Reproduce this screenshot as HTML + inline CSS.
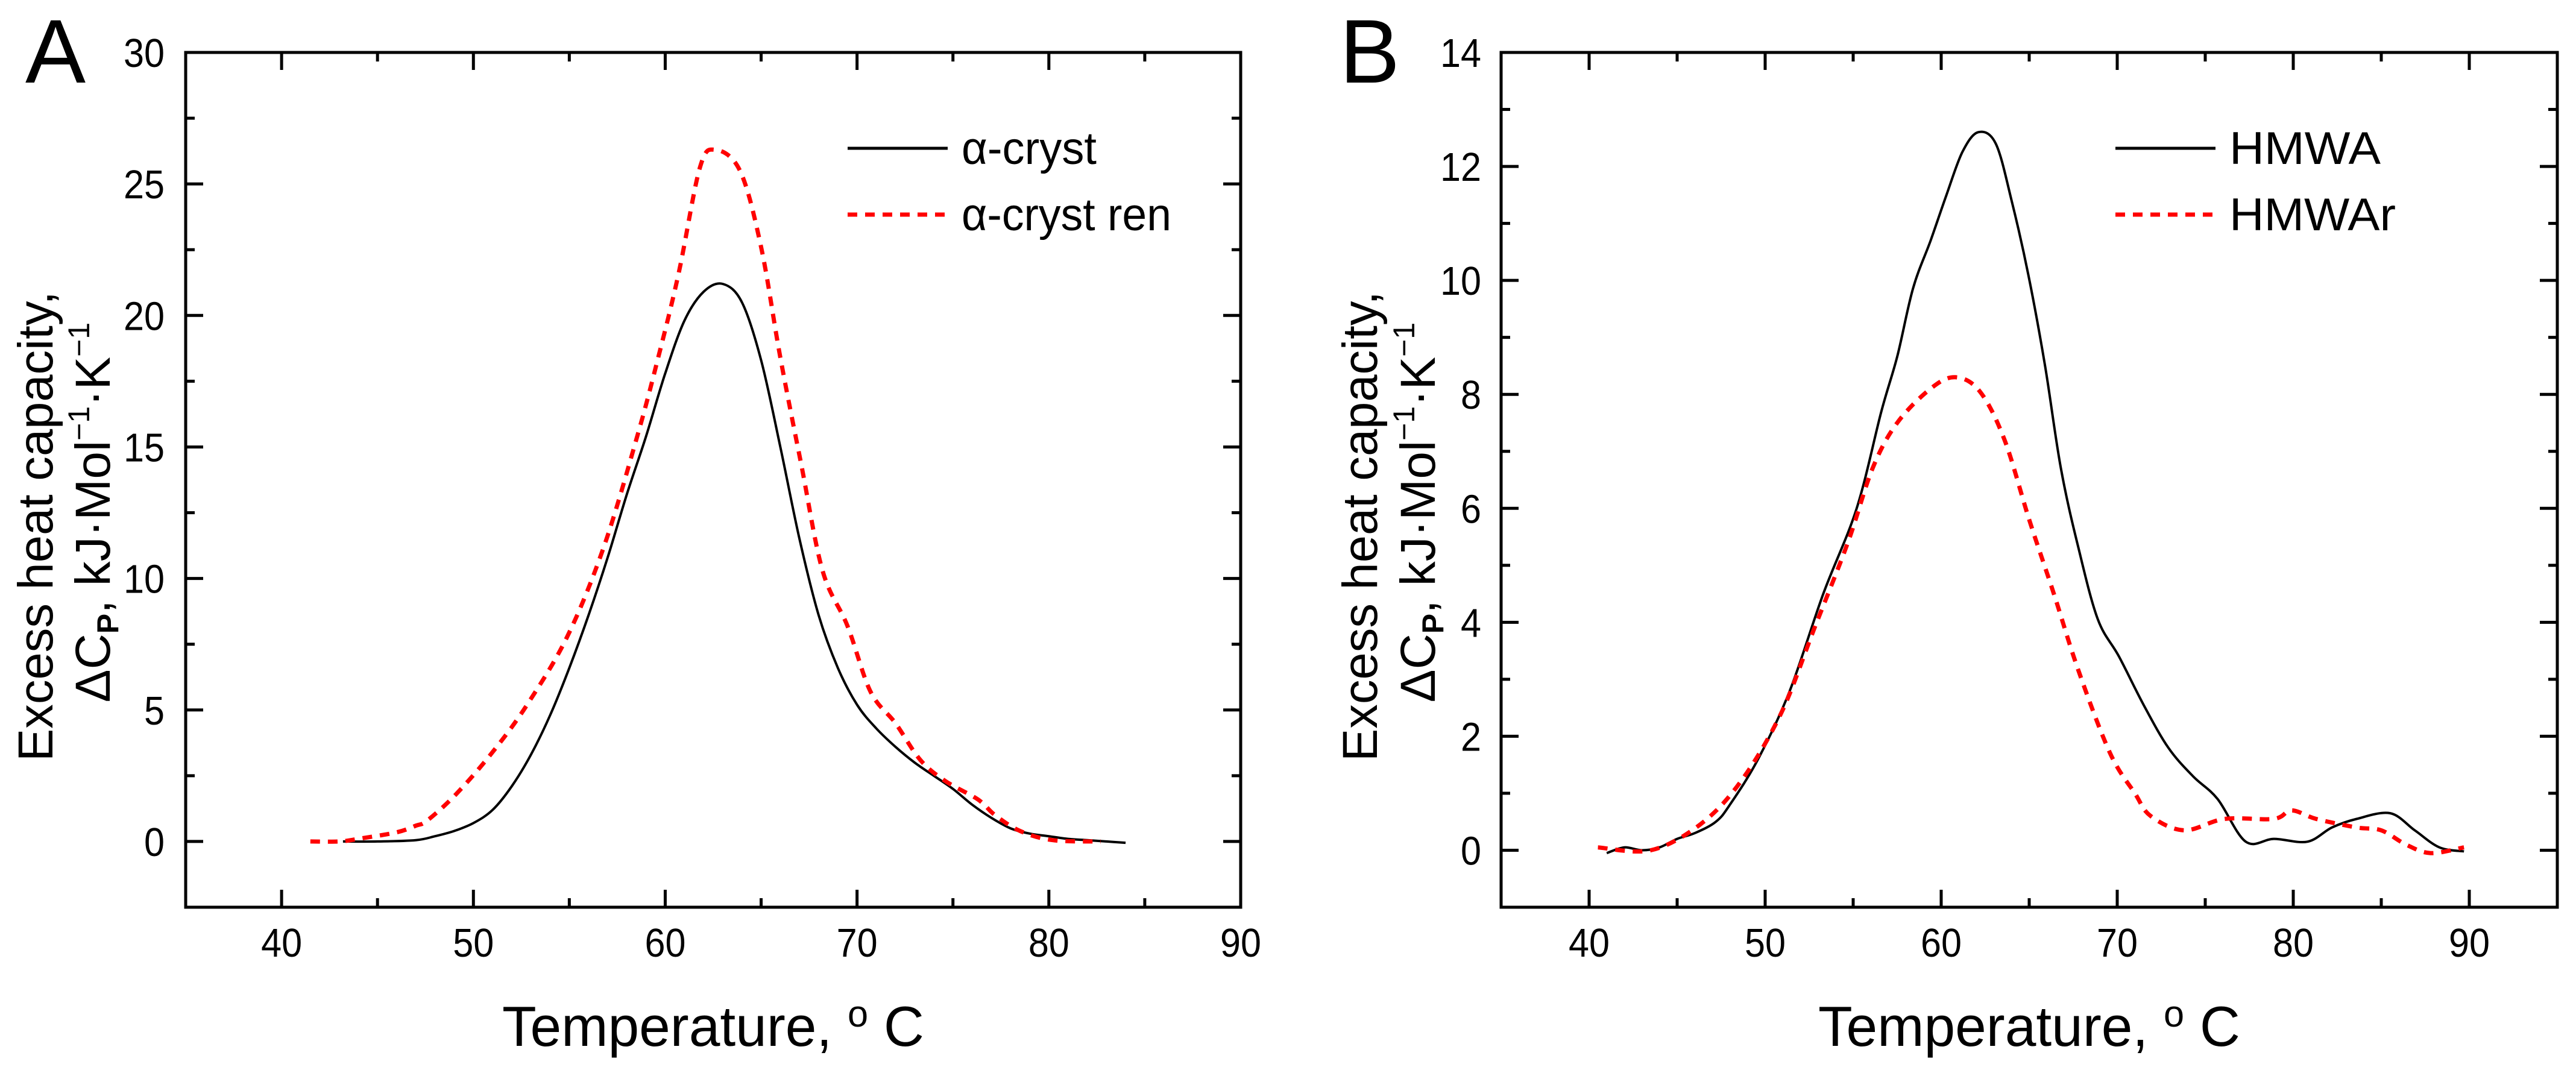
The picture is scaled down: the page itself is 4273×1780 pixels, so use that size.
<!DOCTYPE html>
<html><head><meta charset="utf-8"><style>
html,body{margin:0;padding:0;background:#fff}
svg{display:block}
text{font-family:"Liberation Sans",Arial,sans-serif;fill:#000}
</style></head><body>
<svg id="fig" width="4273" height="1780" viewBox="0 0 4273 1780" xmlns="http://www.w3.org/2000/svg"></svg>
<script>
// Panel A data
const aBlackT = [43.2,45,47,48,49,50,51,52,53,54,55,56,57,58,59,60,61,62,63,64,65,66,67,68,69,70,71,72,73,74,75,76,77,78,79,80,81,82,83,84];
const aBlackY = [0,0,0.05,0.2,0.4,0.7,1.2,2.1,3.3,4.8,6.6,8.6,10.8,13.2,15.4,17.8,19.8,20.9,21.2,20.5,18.3,15.0,11.5,8.6,6.6,5.2,4.3,3.6,3.0,2.5,2.0,1.4,0.9,0.5,0.3,0.2,0.1,0.05,0,-0.05];
const aRedT = [41.5,43,44,46,47,47.6,49.1,51,52.8,54.9,56.8,58.5,59.6,60.7,61.8,62.6,63.9,65,66,67.1,68.2,69.5,70.7,72,73.3,74.6,76.3,77.2,78.5,80.2,82.7];
const aRedY = [0,0,0.1,0.35,0.6,0.8,1.8,3.4,5.2,7.8,11.2,15.3,18.3,21.6,25.6,26.3,25.5,22.6,18.4,14.3,10.3,8.2,5.7,4.5,3.1,2.3,1.6,1.0,0.4,0.05,0];
const aXTicks = [40,50,60,70,80,90];
const aYTicks = [0,5,10,15,20,25,30];
// Panel B data
const bBlackT = [41,42,43,44,45,46,47.2,48,49.6,51.4,53.3,55.2,56.6,57.5,58.4,59.4,60.3,61.2,62.1,63.1,64,64.95,65.9,66.8,67.8,68.9,70.1,71.5,72.9,74.3,75.7,77.3,78.9,80.8,82.2,83.6,85.5,86.9,88.3,89.7];
const bBlackY = [-0.05,0.05,0,0.05,0.2,0.3,0.5,0.8,1.6,2.8,4.5,6.0,7.7,8.66,9.86,10.7,11.5,12.25,12.6,12.4,11.4,10.1,8.5,6.7,5.3,4.05,3.4,2.55,1.8,1.3,0.9,0.15,0.2,0.15,0.4,0.55,0.65,0.35,0.05,-0.02];
const bRedT = [40.5,43.5,46.3,48.6,50.9,52.8,54.7,56.1,57.5,59.4,60.8,62.2,63.6,65,66.4,67.8,69.6,71,71.9,73.8,76.1,78.9,79.9,81.3,83.6,85,86.4,87.8,89.7];
const bRedY = [0.05,0,0.45,1.2,2.4,3.9,5.4,6.7,7.5,8.1,8.3,8.05,7.2,5.8,4.5,3.15,1.7,1.0,0.6,0.35,0.55,0.55,0.7,0.55,0.4,0.35,0.1,-0.05,0.05];
const bXTicks = [40,50,60,70,80,90];
const bYTicks = [0,2,4,6,8,10,12,14];

const NS = "http://www.w3.org/2000/svg";
const svg = document.getElementById('fig');
function mk(tag, attrs, parent){
  const e = document.createElementNS(NS, tag);
  for (const k in attrs) e.setAttribute(k, attrs[k]);
  (parent||svg).appendChild(e);
  return e;
}
function smoothPath(pts){
  let d = 'M' + pts[0][0].toFixed(1) + ',' + pts[0][1].toFixed(1);
  for (let i=0;i<pts.length-1;i++){
    const p0 = pts[Math.max(0,i-1)], p1 = pts[i], p2 = pts[i+1], p3 = pts[Math.min(pts.length-1,i+2)];
    const c1x = p1[0]+(p2[0]-p0[0])/6, c1y = p1[1]+(p2[1]-p0[1])/6;
    const c2x = p2[0]-(p3[0]-p1[0])/6, c2y = p2[1]-(p3[1]-p1[1])/6;
    d += 'C'+c1x.toFixed(1)+','+c1y.toFixed(1)+' '+c2x.toFixed(1)+','+c2y.toFixed(1)+' '+p2[0].toFixed(1)+','+p2[1].toFixed(1);
  }
  return d;
}

function panel(cfg){
  const g = mk('g', {});
  
  
  const L=cfg.left, R=cfg.right, T=87, B=1505;
  const sx = v => L + (v - cfg.xmin) / (cfg.xmax - cfg.xmin) * (R - L);
  const sy = v => B - (v - cfg.ymin) / (cfg.ymax - cfg.ymin) * (B - T);
  const tg = mk('g', {stroke:'#000','stroke-width':5}, g);
  
  
  for (let i=0;i<cfg.xt.length;i++){
    const v = cfg.xt[i], x = sx(v);
    mk('line',{x1:x,y1:B,x2:x,y2:B-29},tg); mk('line',{x1:x,y1:T,x2:x,y2:T+29},tg);
    const xm = sx(v+5);
    if (xm < R-5){ mk('line',{x1:xm,y1:B,x2:xm,y2:B-15},tg); mk('line',{x1:xm,y1:T,x2:xm,y2:T+15},tg); }
    const xm2 = sx(v-5);
    if (i===0 && xm2 > L+5){ mk('line',{x1:xm2,y1:B,x2:xm2,y2:B-15},tg); mk('line',{x1:xm2,y1:T,x2:xm2,y2:T+15},tg); }
    const t = mk('text',{x:x,y:1587,'font-size':67,'text-anchor':'middle',textLength:68,lengthAdjust:'spacingAndGlyphs'},g);
    t.textContent = v;
    
    
  }
  const ystep = cfg.yt[1]-cfg.yt[0];
  for (let i=0;i<cfg.yt.length;i++){
    const v = cfg.yt[i], y = sy(v);
    mk('line',{x1:L,y1:y,x2:L+29,y2:y},tg); mk('line',{x1:R,y1:y,x2:R-29,y2:y},tg);
    const ym = sy(v-ystep/2);
    if (ym < B-5){ mk('line',{x1:L,y1:ym,x2:L+15,y2:ym},tg); mk('line',{x1:R,y1:ym,x2:R-15,y2:ym},tg); }
    const s = String(v);
    const t = mk('text',{x:cfg.ylabX,y:y+24,'font-size':67,'text-anchor':'end',textLength:34*s.length,lengthAdjust:'spacingAndGlyphs'},g);
    t.textContent = s;
    
    
  }
  const fr = mk('rect',{x:L,y:T,width:R-L,height:B-T,fill:'none',stroke:'#000','stroke-width':5},g);
  
  
  const bp = cfg.bT.map((t,i)=>[sx(t), sy(cfg.bY[i])]);
  const rp = cfg.rT.map((t,i)=>[sx(t), sy(cfg.rY[i])]);
  const bl = mk('path',{d:smoothPath(bp),fill:'none',stroke:'#000','stroke-width':4,'stroke-linejoin':'round'},g);
  
  
  const rl = mk('path',{d:smoothPath(rp),fill:'none',stroke:'#ff0000','stroke-width':7,'stroke-dasharray':'16 13'},g);
  
  
  const lg = mk('g',{},g);
  
  
  mk('line',{x1:cfg.legX,y1:246,x2:cfg.legX+166,y2:246,stroke:'#000','stroke-width':5},lg);
  mk('line',{x1:cfg.legX,y1:356,x2:cfg.legX+166,y2:356,stroke:'#ff0000','stroke-width':7,'stroke-dasharray':'16 13'},lg);
  const l1 = mk('text',{x:cfg.legX+189,y:272,'font-size':76,textLength:cfg.l1w,lengthAdjust:'spacingAndGlyphs'},lg);
  l1.textContent = cfg.bLabel;
  
  
  const l2 = mk('text',{x:cfg.legX+189,y:382,'font-size':76,textLength:cfg.l2w,lengthAdjust:'spacingAndGlyphs'},lg);
  l2.textContent = cfg.rLabel;
  
  
  const xt = mk('text',{x:(L+R)/2,y:1735,'font-size':94,'text-anchor':'middle',textLength:700,lengthAdjust:'spacingAndGlyphs'},g);
  xt.innerHTML = 'Temperature, <tspan baseline-shift="32" font-size="62">o</tspan> C';
  
  
  const y1 = mk('text',{transform:'translate('+cfg.yt1X+',873) rotate(-90)','font-size':82,'text-anchor':'middle',textLength:780,lengthAdjust:'spacingAndGlyphs'},g);
  y1.textContent = 'Excess heat capacity,';
  
  
  const y2 = mk('text',{transform:'translate('+cfg.yt2X+',850) rotate(-90)','font-size':82,'text-anchor':'middle'},g);
  y2.innerHTML = '\u0394C<tspan font-size="50" font-weight="bold" baseline-shift="-14">P</tspan>, kJ\u00B7Mol<tspan font-size="50" baseline-shift="34">\u22121</tspan>\u00B7K<tspan font-size="50" baseline-shift="34">\u22121</tspan>';
  
  
  const pl = mk('text',{x:cfg.letX,y:137,'font-size':150},g);
  pl.textContent = cfg.letter;
  
  
}

panel({name:'panel-a', left:308, right:2058, xmin:35, xmax:90, ymin:-2.5, ymax:30,
  xt:aXTicks, yt:aYTicks, ylabX:273, bT:aBlackT, bY:aBlackY, rT:aRedT, rY:aRedY,
  bName:'alpha-cryst', rName:'alpha-cryst-ren', legX:1406, bLabel:'\u03B1-cryst', rLabel:'\u03B1-cryst ren', l1w:224, l2w:348,
  yt1X:87, yt2X:182, letX:42, letter:'A'});
panel({name:'panel-b', left:2490, right:4242, xmin:35, xmax:95, ymin:-1, ymax:14,
  xt:bXTicks, yt:bYTicks, ylabX:2457, bT:bBlackT, bY:bBlackY, rT:bRedT, rY:bRedY,
  bName:'hmwa', rName:'hmwar', legX:3509, bLabel:'HMWA', rLabel:'HMWAr', l1w:251, l2w:276,
  yt1X:2284, yt2X:2380, letX:2222, letter:'B'});
</script>
</body></html>
